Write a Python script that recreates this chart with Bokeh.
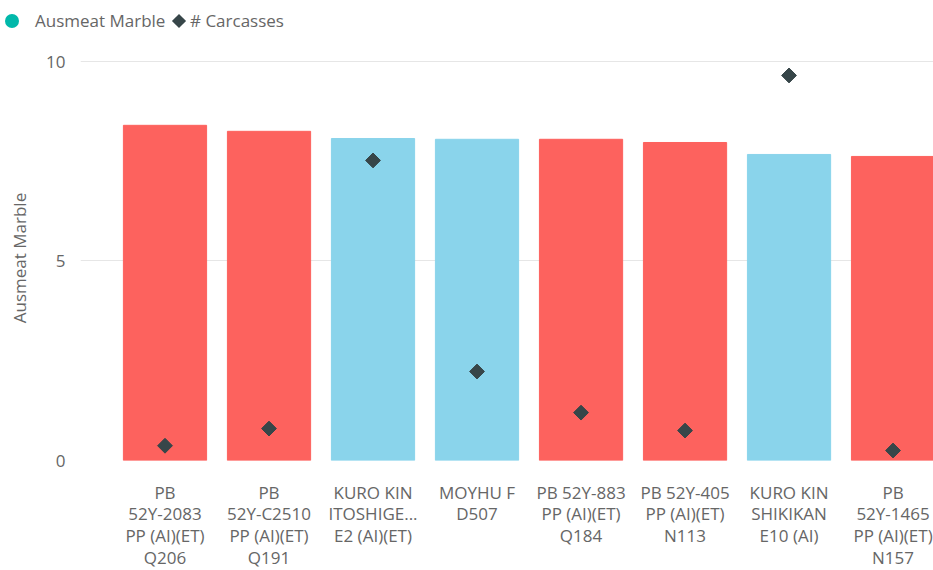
import math
from bokeh.plotting import figure
from bokeh.layouts import column
from bokeh.models import ColumnDataSource, Range1d, FixedTicker, Div
from bokeh.embed import file_html
from bokeh.resources import INLINE

categories = [
    "PB\n52Y-2083\nPP (AI)(ET)\nQ206",
    "PB\n52Y-C2510\nPP (AI)(ET)\nQ191",
    "KURO KIN\nITOSHIGE...\nE2 (AI)(ET)",
    "MOYHU F\nD507",
    "PB 52Y-883\nPP (AI)(ET)\nQ184",
    "PB 52Y-405\nPP (AI)(ET)\nN113",
    "KURO KIN\nSHIKIKAN\nE10 (AI)",
    "PB\n52Y-1465\nPP (AI)(ET)\nN157",
]
marble = [8.40, 8.25, 8.07, 8.05, 8.05, 7.97, 7.67, 7.62]
carcasses = [0.37, 0.80, 7.52, 2.23, 1.20, 0.75, 9.65, 0.25]
bar_colors = ["#FD625E", "#FD625E", "#8AD4EB", "#8AD4EB", "#FD625E", "#FD625E", "#8AD4EB", "#FD625E"]
y_ticks = [0, 5, 10]
series_names = ["Ausmeat Marble", "# Carcasses"]
series_colors = ["#01B8AA", "#374649"]

FONT = "Open Sans"
GREY = "#666666"

# ---------- legend strip (HTML, real text) ----------
legend_html = (
    f'<div style="position:relative;width:925px;height:55px;overflow:visible;'
    f'font-family:\'{FONT}\';font-size:17px;color:{GREY};white-space:nowrap;">'
    f'<span style="position:absolute;left:5px;top:14px;width:14px;height:14px;'
    f'border-radius:50%;background:{series_colors[0]};"></span>'
    f'<span style="position:absolute;left:35px;top:9px;line-height:24px;">{series_names[0]}</span>'
    f'<span style="position:absolute;left:174px;top:16px;width:10px;height:10px;'
    f'transform:rotate(45deg);background:{series_colors[1]};"></span>'
    f'<span style="position:absolute;left:190px;top:9px;line-height:24px;">{series_names[1]}</span>'
    f'</div>'
)
lg = Div(text=legend_html, width=925, height=55, margin=(0, 0, 0, 0))

# ---------- main chart ----------
xs = list(range(len(categories)))
src = ColumnDataSource(dict(x=xs, marble=marble, carc=carcasses, color=bar_colors))

p = figure(frame_width=853, frame_height=405, output_backend="svg", toolbar_location=None,
           x_range=Range1d(-0.8125, 7.389), y_range=Range1d(0, 10.15),
           min_border_left=80, min_border_right=0, min_border_top=0, min_border_bottom=0)
p.outline_line_color = None

p.vbar(x="x", top="marble", width=0.8, color="color", source=src)
p.scatter(x="x", y="carc", marker="square", size=10.5, angle=math.pi / 4,
          color=series_colors[1], source=src)

p.xaxis.ticker = FixedTicker(ticks=xs)
p.xaxis.major_label_overrides = {i: c for i, c in enumerate(categories)}
p.xaxis.axis_line_color = None
p.xaxis.major_tick_line_color = None
p.xaxis.minor_tick_line_color = None
p.xaxis.major_label_standoff = 14
p.xaxis.major_label_text_font = FONT
p.xaxis.major_label_text_font_size = "17px"
p.xaxis.major_label_text_line_height = 0.95
p.xaxis.major_label_text_color = GREY

p.yaxis.ticker = FixedTicker(ticks=y_ticks)
p.yaxis.axis_line_color = None
p.yaxis.major_tick_line_color = None
p.yaxis.minor_tick_line_color = None
p.yaxis.major_label_standoff = 9
p.yaxis.major_label_text_font = FONT
p.yaxis.major_label_text_font_size = "17px"
p.yaxis.major_label_text_color = GREY
p.yaxis.axis_label = "Ausmeat Marble"
p.yaxis.axis_label_text_font = FONT
p.yaxis.axis_label_text_font_size = "17px"
p.yaxis.axis_label_text_font_style = "normal"
p.yaxis.axis_label_text_color = GREY
p.yaxis.axis_label_standoff = 12

p.xgrid.grid_line_color = None
p.ygrid.grid_line_color = "#E6E6E6"
p.ygrid.grid_line_width = 1

layout = column(lg, p, spacing=0)
open("out.html", "w").write(file_html(layout, INLINE))
